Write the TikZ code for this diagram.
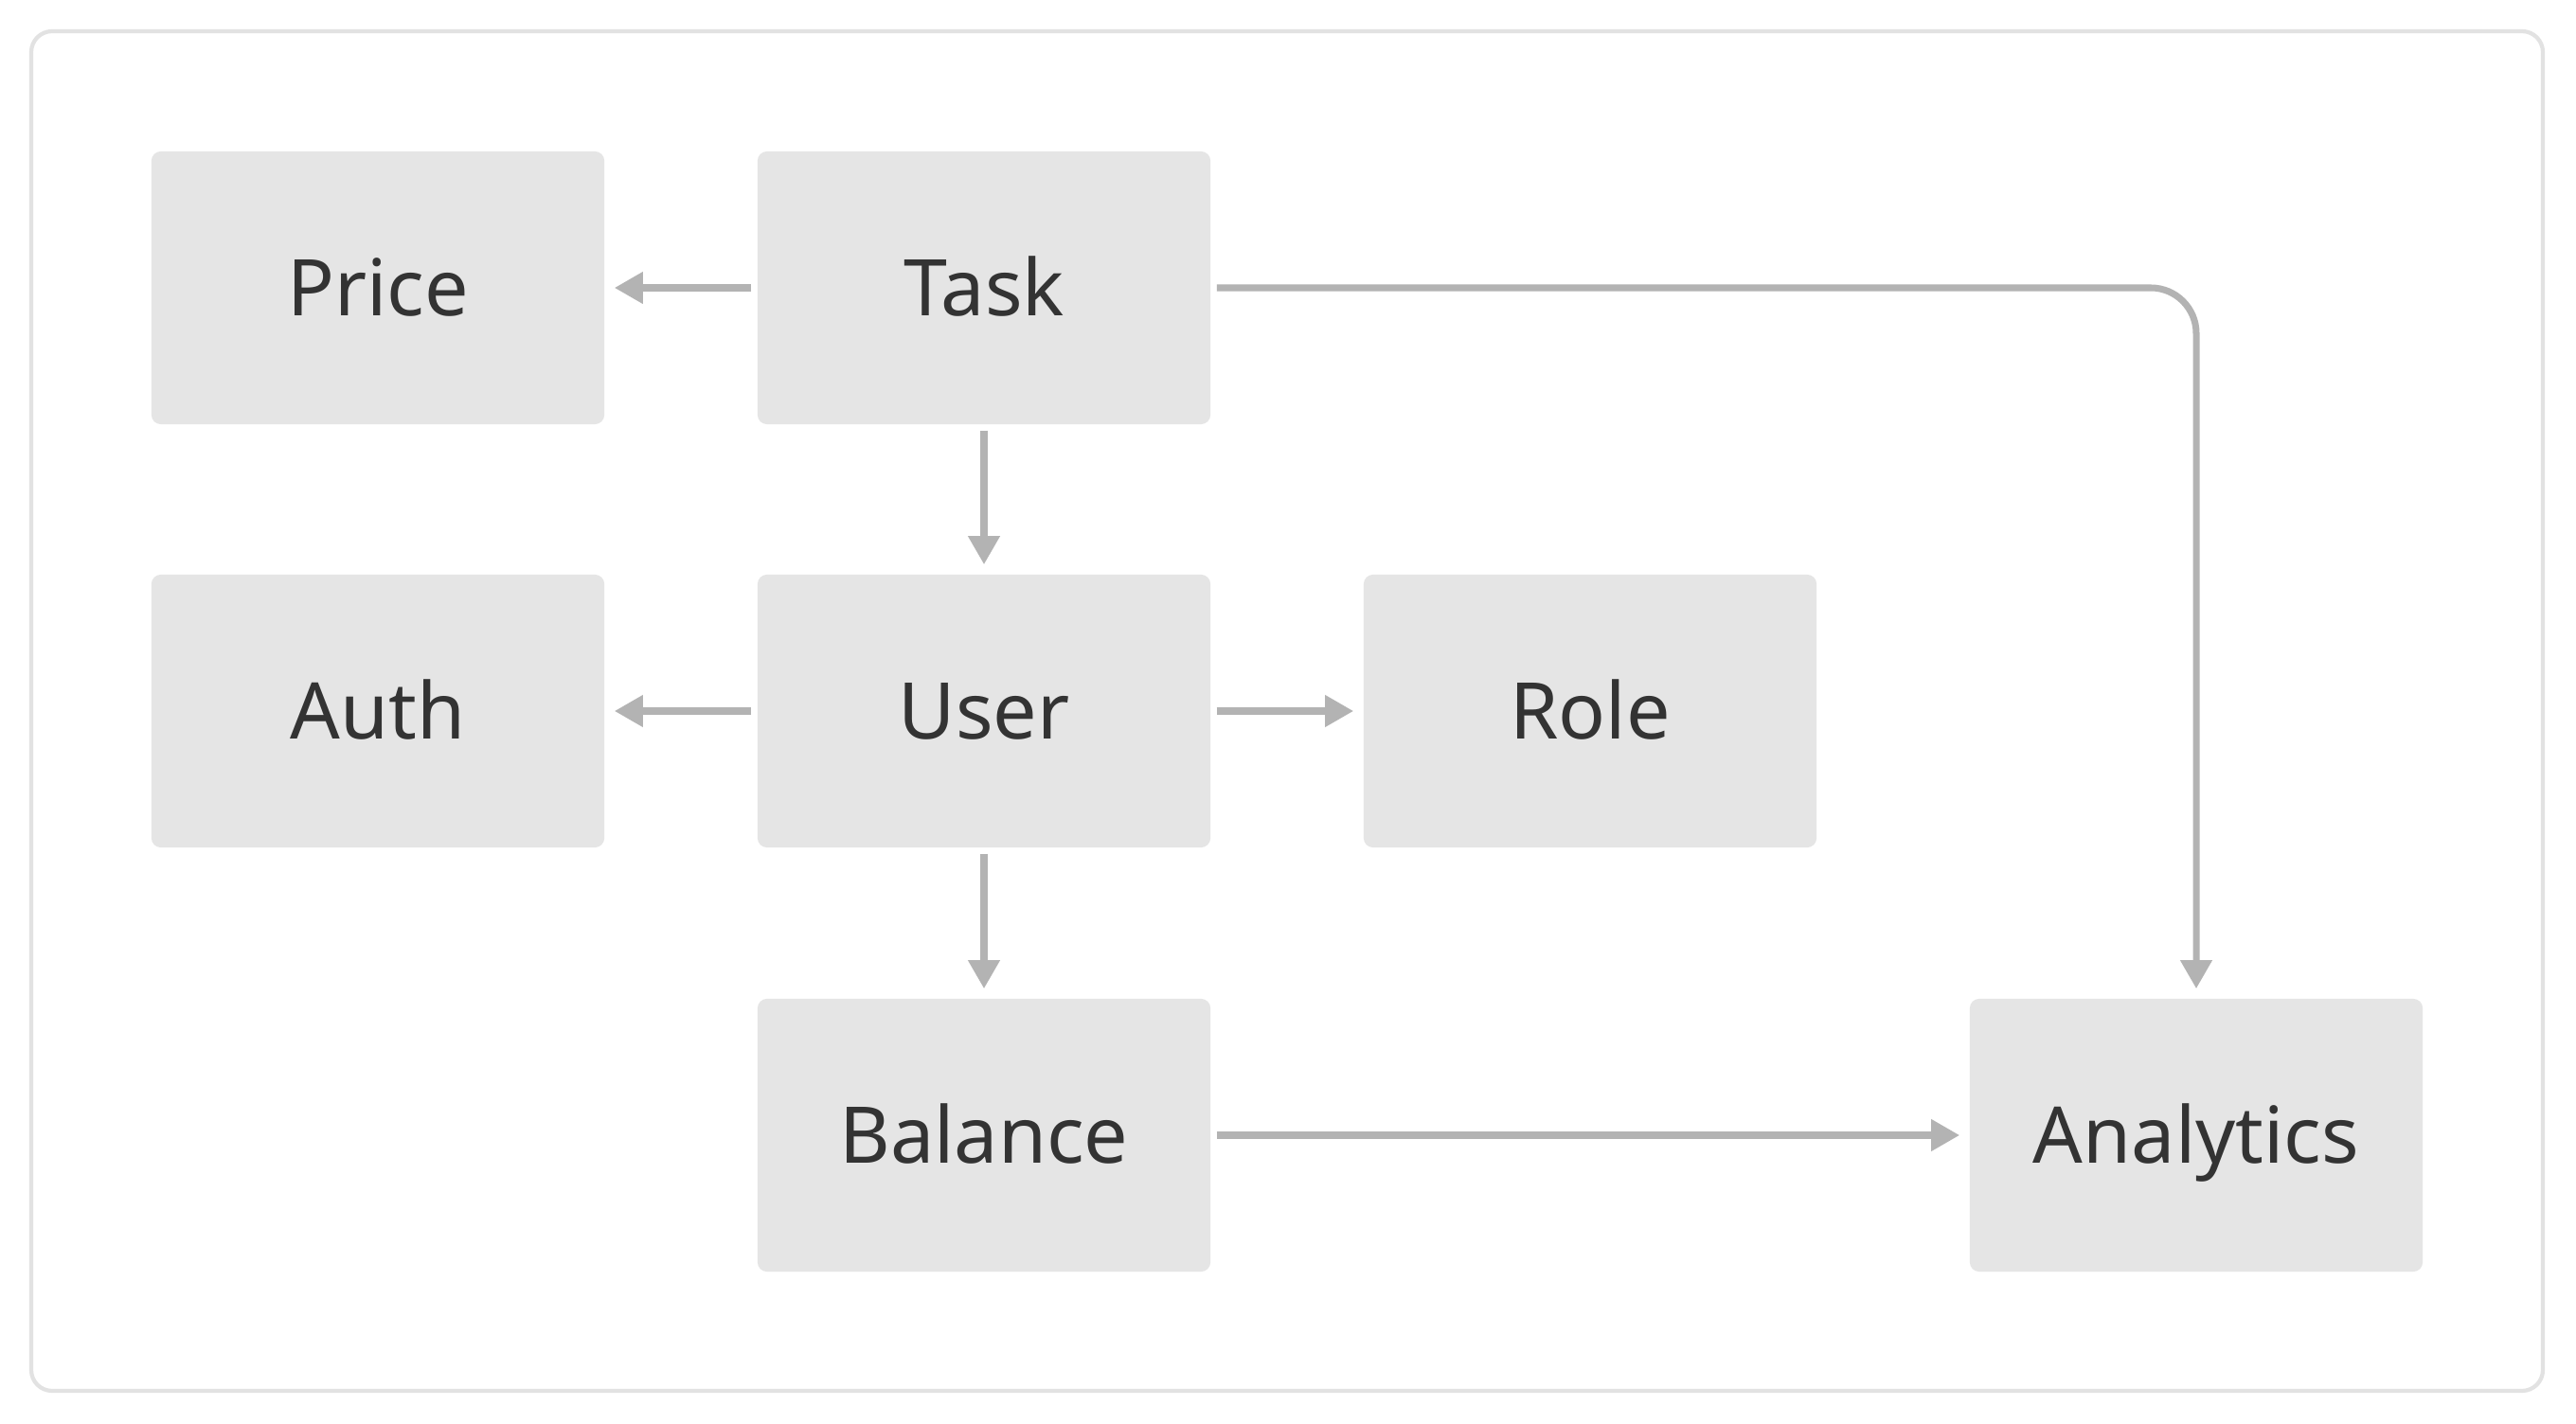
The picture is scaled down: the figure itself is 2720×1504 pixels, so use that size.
\documentclass[tikz,border=0pt]{standalone}
\usepackage{fontspec}
\setmainfont{Noto Sans}
\usetikzlibrary{arrows.meta}
\definecolor{boxfill}{HTML}{E5E5E5}
\definecolor{frameline}{HTML}{E2E2E2}
\definecolor{edgecol}{HTML}{B3B3B3}
\definecolor{txt}{HTML}{333333}
\begin{document}
\begin{tikzpicture}[x=0.01cm,y=-0.01cm,
  entity/.style={rectangle, rounded corners=0.1cm, fill=boxfill, draw=none,
    minimum width=4.78cm, minimum height=2.88cm, text=txt,
    text height=16.8pt, text depth=0pt,
    font=\fontsize{23.5pt}{28pt}\selectfont},
  link/.style={draw=edgecol, line width=2pt,
    -{Triangle[length=0.3cm,width=0.32cm]},
    shorten <=0.06cm, shorten >=0.1cm}]
\useasboundingbox (0,0) rectangle (2720,1504);
\draw[frameline, line width=1.2pt, fill=white, rounded corners=0.22cm] (33,33) rectangle (2685,1469);

\node[entity] (price) at (399,304) {Price};
\node[entity] (task) at (1039,304) {Task};
\node[entity] (auth) at (399,751) {Auth};
\node[entity] (user) at (1039,751) {User};
\node[entity] (role) at (1679,751) {Role};
\node[entity] (balance) at (1039,1199) {Balance};
\node[entity] (analytics) at (2319,1199) {Analytics};

\draw[link] (task) -- (price);
\draw[link] (task) -- (user);
\draw[link] (user) -- (auth);
\draw[link] (user) -- (role);
\draw[link] (user) -- (balance);
\draw[link] (balance) -- (analytics);
\draw[link, rounded corners=0.48cm] (task.east) -- (analytics.north |- task.east) -- (analytics.north);
\end{tikzpicture}
\end{document}
